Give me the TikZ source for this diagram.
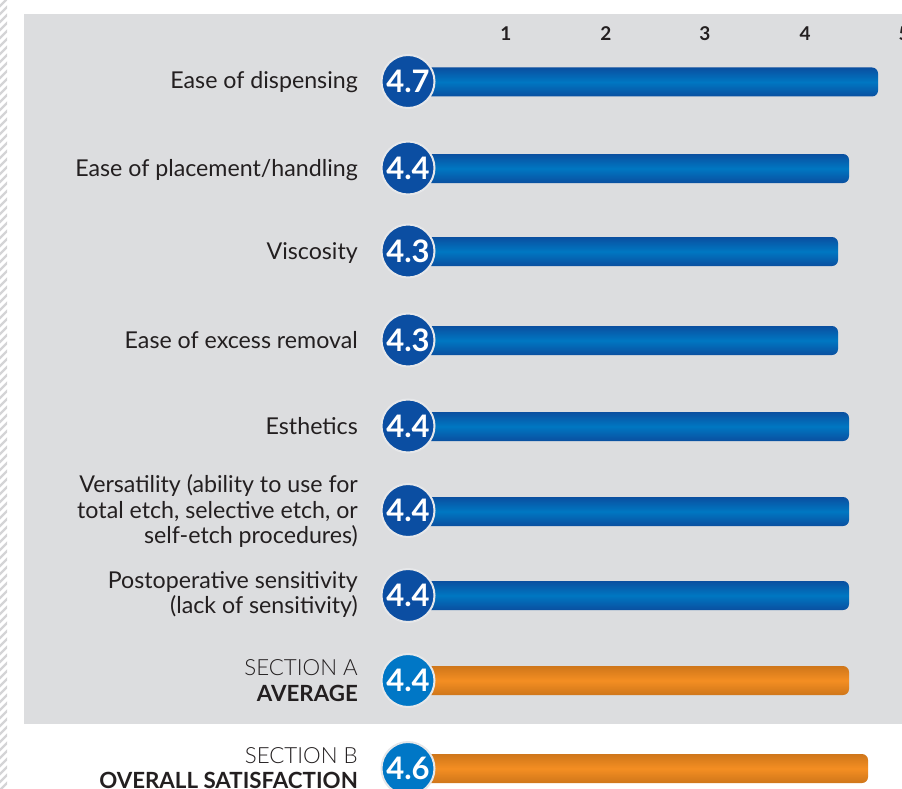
\documentclass[tikz,border=0pt]{standalone}
\usepackage{fontspec}
\setmainfont{Lato}
\newfontfamily\lightfont{Lato Light}
\definecolor{panel}{HTML}{DCDDDF}
\definecolor{ink}{HTML}{231F20}
\definecolor{bluedark}{HTML}{0A4FA0}
\definecolor{bluemid}{HTML}{0077C2}
\definecolor{circdark}{HTML}{0B4EA2}
\definecolor{circlight}{HTML}{0077C6}
\definecolor{orangedark}{HTML}{CF761A}
\definecolor{orangemid}{HTML}{F48E22}
\definecolor{ring}{HTML}{E6E7E9}
\definecolor{hatch}{HTML}{D4D4D6}
\begin{document}
\begin{tikzpicture}[x=1pt,y=-1pt,
  lab/.style={anchor=base east, text=ink, inner sep=0pt, font=\fontsize{23.2}{28}\selectfont},
  seclight/.style={anchor=base east, text=ink, inner sep=0pt, font=\fontsize{22.3}{26}\selectfont\lightfont},
  secbold/.style={anchor=base east, text=ink, inner sep=0pt, font=\fontsize{22.3}{26}\selectfont\bfseries},
  tick/.style={anchor=base, text=ink, inner sep=0pt, font=\fontsize{19}{22}\selectfont\bfseries},
  score/.style={circle, minimum size=53pt, inner sep=0pt, fill=circdark, draw=ring, line width=2pt,
    text=white, font=\fontsize{31}{31}\selectfont\bfseries},
  scorelight/.style={score, fill=circlight},
  bluebar/.style={rounded corners=6pt, top color=bluedark, bottom color=bluedark, middle color=bluemid},
  orangebar/.style={rounded corners=6pt, top color=orangedark, bottom color=orangedark, middle color=orangemid}
]
\useasboundingbox (0,0) rectangle (902,789);
\clip (0,0) rectangle (902,789);
% hatched strip
\begin{scope}
  \clip (0,0) rectangle (7,789);
  \foreach \k in {0,8,...,800} {
    \draw[hatch, line width=2.2pt] (-2,\k+8) -- (10,\k-4);
  }
\end{scope}
% panel
\fill[panel] (24,14) rectangle (902,724);
% ticks
\node[tick] (t1) at (506,41) {1};
\node[tick] (t2) at (606,41) {2};
\node[tick] (t3) at (705,41) {3};
\node[tick] (t4) at (805,41) {4};
\node[tick] (t5) at (904,41) {5};
% bars
\path[bluebar] (420,67.5) rectangle (878,96.5);
\path[bluebar] (420,154) rectangle (849,183);
\path[bluebar] (420,237) rectangle (838,266);
\path[bluebar] (420,326) rectangle (838,355);
\path[bluebar] (420,412) rectangle (849,441);
\path[bluebar] (420,497) rectangle (849,526);
\path[bluebar] (420,581) rectangle (849,610);
\path[orangebar] (420,666) rectangle (849,695);
\path[orangebar] (420,754) rectangle (868,783);
% circles
\node[score] (c1) at (408,81.5) {4.7};
\node[score] (c2) at (408,168) {4.4};
\node[score] (c3) at (408,251) {4.3};
\node[score] (c4) at (408,340) {4.3};
\node[score] (c5) at (408,426) {4.4};
\node[score] (c6) at (408,510.5) {4.4};
\node[score] (c7) at (408,595.5) {4.4};
\node[scorelight] (c8) at (408,680.5) {4.4};
\node[scorelight] (c9) at (408,768.5) {4.6};
% labels
\node[lab] (l1) at (358,89) {Ease of dispensing};
\node[lab] (l2) at (358,176) {Ease of placement/handling};
\node[lab] (l3) at (358,259) {Viscosity};
\node[lab] (l4) at (358,348) {Ease of excess removal};
\node[lab] (l5) at (358,434) {Esthetics};
\node[lab] (l6a) at (358,492) {Versatility (ability to use for};
\node[lab] (l6b) at (358,518) {total etch, selective etch, or};
\node[lab] (l6c) at (358,543) {self-etch procedures)};
\node[lab] (l7a) at (358,588) {Postoperative sensitivity};
\node[lab] (l7b) at (358,613) {(lack of sensitivity)};
\node[seclight] (l8a) at (358,675) {SECTION A};
\node[secbold] (l8b) at (358,701) {AVERAGE};
\node[seclight] (l9a) at (358,763) {SECTION B};
\node[secbold] (l9b) at (358,788) {OVERALL SATISFACTION};
\end{tikzpicture}
\end{document}
